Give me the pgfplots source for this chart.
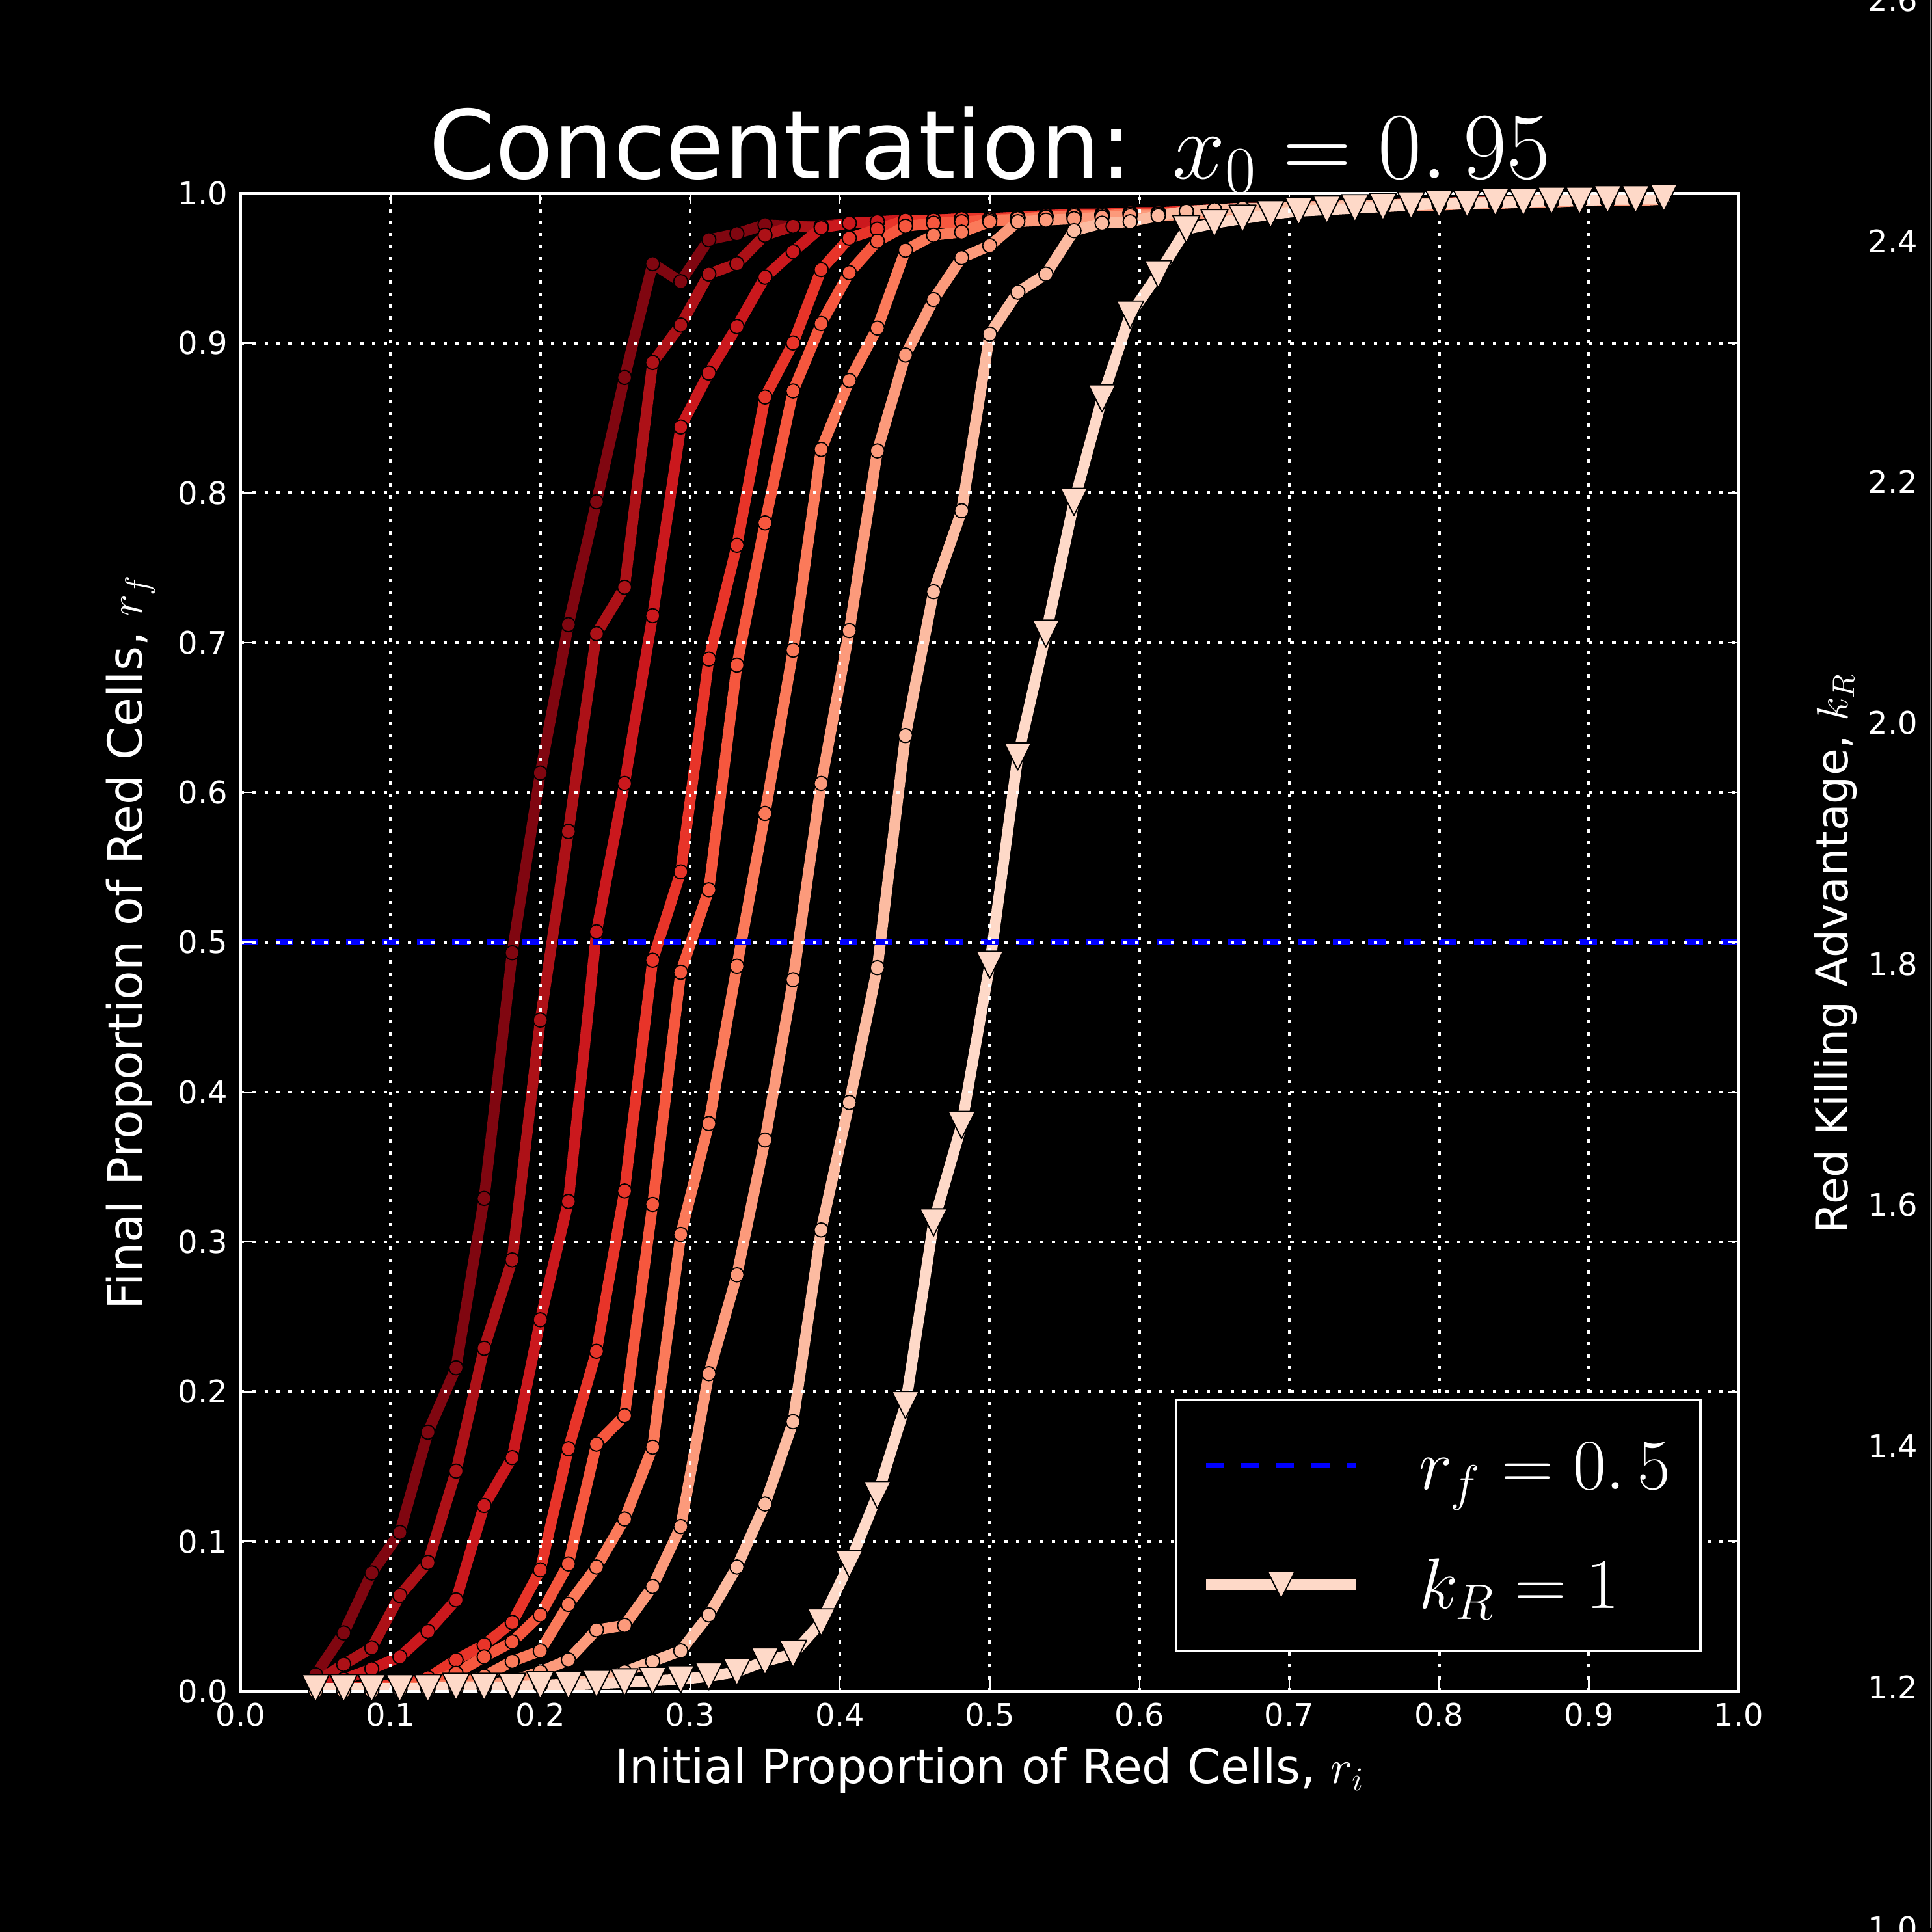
\RequirePackage{fix-cm}
\documentclass[border=0pt]{standalone}
\usepackage{fontspec}
\setmainfont{DejaVu Sans}
\usepackage{pgfplots}
\pgfplotsset{compat=1.18}
\usepackage{pgfplotstable}

% Reds colormap, dark (large k_R) to light (k_R = 1)
\definecolor{c1}{RGB}{128,6,16}
\definecolor{c2}{RGB}{173,17,23}
\definecolor{c3}{RGB}{203,24,29}
\definecolor{c4}{RGB}{232,52,41}
\definecolor{c5}{RGB}{246,87,62}
\definecolor{c6}{RGB}{251,122,90}
\definecolor{c7}{RGB}{252,154,123}
\definecolor{c8}{RGB}{252,187,161}
\definecolor{c9}{RGB}{254,217,200}

\pgfplotstableread{
x       s1    s2    s3    s4    s5    s6    s7    s8    s9
0.05    0.011 0.006 0.004 0.001 0.001 0.000 0.000 0.000 0.002
0.06875 0.039 0.018 0.008 0.002 0.001 0.001 0.000 0.000 0.002
0.0875  0.079 0.029 0.015 0.003 0.002 0.001 0.001 0.000 0.002
0.10625 0.106 0.064 0.023 0.005 0.003 0.002 0.001 0.001 0.002
0.125   0.173 0.086 0.040 0.009 0.006 0.003 0.002 0.001 0.002
0.14375 0.216 0.147 0.061 0.021 0.012 0.005 0.003 0.002 0.003
0.1625  0.329 0.229 0.124 0.031 0.023 0.010 0.004 0.002 0.003
0.18125 0.493 0.288 0.156 0.046 0.033 0.020 0.007 0.003 0.003
0.2     0.613 0.448 0.248 0.081 0.051 0.027 0.013 0.004 0.004
0.21875 0.712 0.574 0.327 0.162 0.085 0.058 0.021 0.005 0.004
0.2375  0.794 0.706 0.507 0.227 0.165 0.083 0.041 0.008 0.005
0.25625 0.877 0.737 0.606 0.334 0.184 0.115 0.044 0.013 0.006
0.275   0.953 0.887 0.718 0.488 0.325 0.163 0.070 0.020 0.007
0.29375 0.941 0.912 0.844 0.547 0.480 0.305 0.110 0.027 0.008
0.3125  0.969 0.946 0.880 0.689 0.535 0.379 0.212 0.051 0.010
0.33125 0.973 0.953 0.911 0.765 0.685 0.484 0.278 0.083 0.013
0.35    0.979 0.972 0.944 0.864 0.780 0.586 0.368 0.125 0.020
0.36875 0.978 0.978 0.961 0.900 0.868 0.695 0.475 0.180 0.025
0.3875  0.978 0.977 0.977 0.949 0.913 0.829 0.606 0.308 0.046
0.40625 0.980 0.980 0.980 0.970 0.947 0.875 0.708 0.393 0.085
0.425   0.981 0.981 0.981 0.976 0.968 0.910 0.828 0.483 0.131
0.44375 0.982 0.982 0.982 0.982 0.978 0.962 0.892 0.638 0.191
0.4625  0.982 0.982 0.982 0.982 0.980 0.972 0.929 0.734 0.313
0.48125 0.983 0.983 0.983 0.983 0.981 0.974 0.957 0.788 0.378
0.5     0.983 0.983 0.983 0.983 0.982 0.981 0.965 0.906 0.485
0.51875 0.984 0.984 0.984 0.984 0.983 0.983 0.981 0.934 0.624
0.5375  0.985 0.985 0.985 0.985 0.984 0.984 0.982 0.946 0.706
0.55625 0.986 0.986 0.986 0.986 0.985 0.985 0.983 0.975 0.794
0.575   0.986 0.986 0.986 0.986 0.985 0.985 0.984 0.980 0.863
0.59375 0.987 0.987 0.987 0.987 0.986 0.986 0.985 0.981 0.919
0.6125  0.987 0.987 0.987 0.987 0.986 0.986 0.985 0.985 0.946
0.63125 0.988 0.988 0.988 0.988 0.987 0.987 0.986 0.988 0.976
0.65    0.989 0.989 0.989 0.989 0.988 0.988 0.987 0.989 0.980
0.66875 0.990 0.990 0.990 0.990 0.989 0.989 0.988 0.990 0.983
0.6875  0.990 0.990 0.990 0.990 0.990 0.990 0.989 0.990 0.986
0.70625 0.991 0.991 0.991 0.991 0.990 0.990 0.990 0.991 0.988
0.725   0.991 0.991 0.991 0.991 0.991 0.991 0.990 0.991 0.989
0.74375 0.992 0.992 0.992 0.992 0.991 0.991 0.991 0.992 0.990
0.7625  0.992 0.992 0.992 0.992 0.992 0.992 0.991 0.992 0.991
0.78125 0.993 0.993 0.993 0.993 0.992 0.992 0.992 0.993 0.992
0.8     0.993 0.993 0.993 0.993 0.993 0.993 0.992 0.993 0.993
0.81875 0.994 0.994 0.994 0.994 0.993 0.993 0.993 0.994 0.993
0.8375  0.994 0.994 0.994 0.994 0.994 0.994 0.993 0.994 0.994
0.85625 0.995 0.995 0.995 0.995 0.994 0.994 0.994 0.995 0.994
0.875   0.995 0.995 0.995 0.995 0.995 0.995 0.994 0.995 0.995
0.89375 0.995 0.995 0.995 0.995 0.995 0.995 0.995 0.995 0.995
0.9125  0.996 0.996 0.996 0.996 0.995 0.995 0.995 0.996 0.996
0.93125 0.996 0.996 0.996 0.996 0.996 0.996 0.995 0.996 0.996
0.95    0.996 0.996 0.996 0.996 0.996 0.996 0.996 0.996 0.997
}\data

\pgfplotsset{
  circ/.style={#1, line width=4pt, line join=round, mark=*, mark size=2.6pt,
    mark options={draw=black, line width=0.45pt, fill=#1}, forget plot},
  numfmt/.style={/pgf/number format/fixed, /pgf/number format/fixed zerofill,
    /pgf/number format/precision=1, /pgf/number format/assume math mode=true},
  every axis title shift=0pt,
}

\begin{document}
\color{white}
\begin{tikzpicture}
\fill[black] (0,0) rectangle (712.8pt,712.8pt);

\begin{axis}[
  at={(88.8pt,88.8pt)}, anchor=south west,
  scale only axis, width=552.7pt, height=552.7pt,
  xmin=0, xmax=1, ymin=0, ymax=1,
  xtick distance=0.1, ytick distance=0.1,
  axis on top,
  grid=major,
  major grid style={white, line width=1.1pt, dash pattern=on 1.3pt off 3.1pt},
  axis line style={white, line width=1pt},
  tick align=inside, major tick length=4pt,
  tick style={white, line width=0.6pt},
  numfmt,
  ticklabel style={text=white, font=\fontsize{11.5}{13}\selectfont},
  xticklabel style={inner sep=0pt, anchor=north, yshift=-4pt},
  yticklabel style={inner sep=0pt, anchor=east, xshift=-4.6pt},
  title={Concentration: $x_0 = 0.\,95$},
  title style={at={(0.5,1)}, anchor=base, yshift=5.5pt, text=white,
    font=\fontsize{35}{40}\selectfont},
  xlabel={Initial Proportion of Red Cells, $r_i$},
  xlabel style={at={(axis description cs:0.5,-0.0615)}, anchor=base, text=white,
    font=\fontsize{17.5}{20}\selectfont},
  ylabel={Final Proportion of Red Cells, $r_f$},
  ylabel style={at={(axis description cs:-0.066,0.5)}, anchor=base, text=white,
    font=\fontsize{17.5}{20}\selectfont},
  reverse legend,
  legend cell align=left,
  legend image code/.code={\draw[mark repeat=2, mark phase=2, #1]
    plot coordinates {(0pt,0pt) (27.75pt,0pt) (55.5pt,0pt)};},
  legend style={at={(axis description cs:1,0)}, anchor=south east,
    xshift=-13.7pt, yshift=14.4pt,
    draw=white, line width=1pt, fill=black, text=white,
    font=\fontsize{26.5}{30}\selectfont,
    inner xsep=9pt, inner ysep=11pt, column sep=19pt, row sep=17.4pt,
    nodes={inner sep=2pt, text height=20pt, text depth=2.6pt}},
]
\addplot[circ=c1] table[x=x, y=s1] {\data};
\addplot[circ=c2] table[x=x, y=s2] {\data};
\addplot[circ=c3] table[x=x, y=s3] {\data};
\addplot[circ=c4] table[x=x, y=s4] {\data};
\addplot[circ=c5] table[x=x, y=s5] {\data};
\addplot[circ=c6] table[x=x, y=s6] {\data};
\addplot[circ=c7] table[x=x, y=s7] {\data};
\addplot[circ=c8] table[x=x, y=s8] {\data};
\addplot[c9, line width=4pt, line join=round, mark=triangle*, mark size=5.77pt,
  mark options={yshift=1.67pt, rotate=180, yscale=1.155, draw=black, line width=0.45pt, fill=c9}]
  table[x=x, y=s9] {\data};
\addlegendentry{$k_R = 1$}
\addplot[blue, line width=2pt, dash pattern=on 6.5pt off 6.5pt] coordinates {(0,0.5) (1,0.5)};
\addlegendentry{$r_f = 0.\,5$}
\end{axis}

% colour bar axis, mostly beyond the right edge of the page
\begin{axis}[
  at={(712.3pt,1.44pt)}, anchor=south west,
  scale only axis, width=100pt, height=711.4pt,
  xmin=0, xmax=1, ymin=1.0, ymax=2.6,
  hide x axis,
  ytick distance=0.2, ytick pos=left, yticklabel pos=left,
  major tick length=0pt,
  axis line style={gray, line width=0.5pt},
  numfmt,
  yticklabel style={text=white, inner sep=0pt, anchor=east, xshift=-4.6pt,
    font=\fontsize{11.5}{13}\selectfont},
  ylabel={Red Killing Advantage, $k_R$},
  ylabel style={at={(axis description cs:-0.307,0.5055)}, anchor=base, text=white,
    font=\fontsize{16.3}{19}\selectfont},
]
\end{axis}

\pgfresetboundingbox
\useasboundingbox (0,0) rectangle (712.8pt,712.8pt);
\end{tikzpicture}
\end{document}
